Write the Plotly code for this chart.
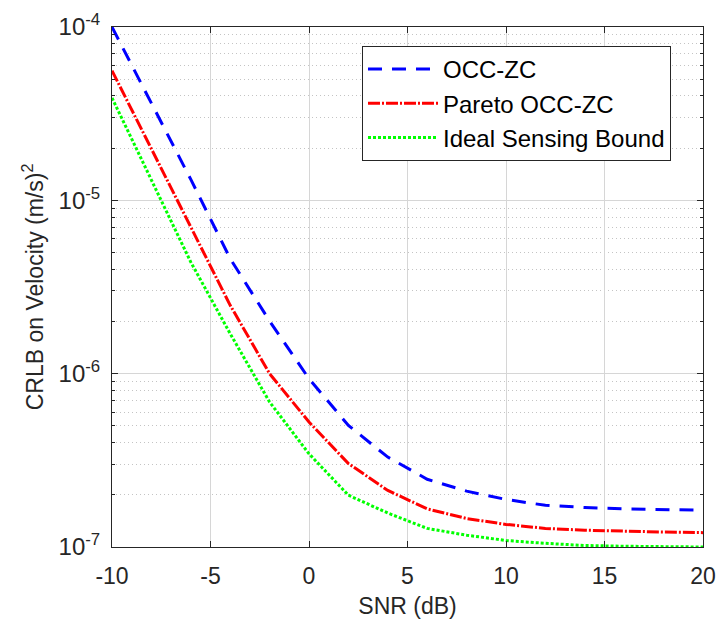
import plotly.graph_objects as go

snr_db = [-10, -8, -6, -4, -2, 0, 2, 4, 6, 8, 10, 12, 14, 16, 18, 20]
occ_zc = [1.0e-4, 3.66e-5, 1.32e-5, 4.61e-6, 2.01e-6, 9.35e-7, 5.03e-7, 3.30e-7,
          2.46e-7, 2.10e-7, 1.88e-7, 1.74e-7, 1.69e-7, 1.66e-7, 1.64e-7, 1.63e-7]
pareto_occ_zc = [5.6e-5, 1.98e-5, 7.05e-6, 2.48e-6, 1.0e-6, 5.26e-7, 3.03e-7, 2.12e-7,
                 1.66e-7, 1.46e-7, 1.35e-7, 1.28e-7, 1.25e-7, 1.23e-7, 1.22e-7, 1.21e-7]
ideal_bound = [3.9e-5, 1.30e-5, 4.40e-6, 1.70e-6, 6.86e-7, 3.45e-7, 1.99e-7, 1.57e-7,
               1.28e-7, 1.17e-7, 1.09e-7, 1.05e-7, 1.02e-7, 1.01e-7, 1.005e-7, 1.0e-7]

series_names = ["OCC-ZC", "Pareto OCC-ZC", "Ideal Sensing Bound"]
x_ticks = [-10, -5, 0, 5, 10, 15, 20]
y_tick_vals = [1e-7, 1e-6, 1e-5, 1e-4]
y_tick_text = ["10<sup>-7</sup>", "10<sup>-6</sup>", "10<sup>-5</sup>", "10<sup>-4</sup>"]

FONT = "Liberation Sans, Arial, Helvetica, sans-serif"
AX = "#262626"

fig = go.Figure()
styles = [
    dict(color="#0000FF", width=3, dash="14px,10px"),
    dict(color="#FF0000", width=3, dash="12px,2px,2px,2px"),
    dict(color="#00FF00", width=3, dash="3px,2px"),
]
for name, ys, st in zip(series_names, [occ_zc, pareto_occ_zc, ideal_bound], styles):
    fig.add_trace(go.Scatter(x=snr_db, y=ys, mode="lines", name=name, line=st))

fig.update_layout(
    width=719, height=624,
    margin=dict(l=112, r=16, t=27, b=77),
    paper_bgcolor="white", plot_bgcolor="white",
    font=dict(family=FONT, color=AX, size=24),
    showlegend=True,
    legend=dict(
        x=0.423, y=0.9635, xanchor="left", yanchor="top",
        bgcolor="white", bordercolor=AX, borderwidth=1,
        font=dict(size=24, color="#000000"),
        tracegroupgap=0, itemwidth=70,
    ),
)
fig.update_xaxes(
    range=[-10, 20], tickvals=x_ticks, ticktext=[str(v) for v in x_ticks],
    automargin=False,
    showline=True, linecolor=AX, linewidth=1, mirror="allticks",
    ticks="inside", ticklen=6, tickcolor=AX,
    showgrid=True, gridcolor="#d6d6d6", gridwidth=1,
    zeroline=False,
    tickfont=dict(size=23, color=AX),
    ticklabelstandoff=8,
    title=dict(text="SNR (dB)", font=dict(size=23, color=AX), standoff=10),
)
fig.update_yaxes(
    type="log", range=[-7, -4],
    tickvals=y_tick_vals, ticktext=y_tick_text,
    automargin=False,
    showline=True, linecolor=AX, linewidth=1, mirror="allticks",
    ticks="inside", ticklen=6, tickcolor=AX,
    showgrid=True, gridcolor="#d6d6d6", gridwidth=1,
    zeroline=False,
    tickfont=dict(size=24, color=AX),
    ticklabelstandoff=6,
    minor=dict(tickvals=[m * 10.0 ** e for e in range(-7, -4) for m in range(2, 10)],
               ticks="inside", ticklen=3, tickcolor=AX,
               showgrid=True, gridcolor="#c4c4c4", griddash="1px,3px", gridwidth=1),
    title=dict(text="CRLB on Velocity (m/s)<sup>2</sup>", font=dict(size=23, color=AX), standoff=8),
)

fig.write_html("out.html")
